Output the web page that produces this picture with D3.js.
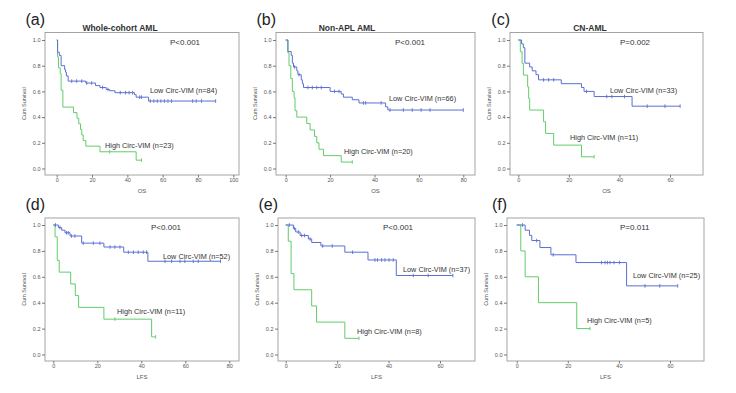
<!DOCTYPE html>
<html>
<head>
<meta charset="utf-8">
<script src="https://cdn.jsdelivr.net/npm/d3@7"></script>
<style>
  html, body { margin: 0; padding: 0; background: #fff; }
  svg { display: block; font-family: "Liberation Sans", Arial, sans-serif; }
</style>
</head>
<body>
<div id="chart"></div>
<script>
// Kaplan-Meier steps: [time, survival after the event]
const aLowSteps = [[0,1],[0.5,0.905],[1.5,0.88],[2.5,0.80],[4.5,0.77],[5,0.75],[5.5,0.72],[6.5,0.68],[16.5,0.665],[22,0.645],[24.5,0.63],[28,0.615],[30,0.605],[33,0.59],[44,0.575],[45,0.555],[52,0.525]];
const aLowEnd = 90;
const aLowCensor = [8.5,11.3,14.2,17,19.8,26,29,36,39,41,43,47,48,53,55,57,59,61,63,65,77,79,82,90];
const aHighSteps = [[0,1],[0.5,0.87],[1,0.783],[2,0.739],[2.5,0.609],[3.5,0.478],[9.5,0.435],[11.5,0.391],[12.5,0.348],[13.5,0.304],[14.2,0.261],[15,0.217],[16.5,0.174],[24.5,0.13],[45,0.065]];
const aHighEnd = 48;
const aHighCensor = [30,48];

const bLowSteps = [[0,1],[1,0.91],[2.5,0.88],[3,0.82],[3.5,0.79],[5,0.76],[5.5,0.73],[7,0.69],[7.5,0.66],[8,0.63],[20,0.60],[25,0.58],[26,0.555],[30,0.535],[33,0.51],[45,0.48],[46,0.455]];
const bLowEnd = 80;
const bLowCensor = [4,6,10,12,14,16,22,24,35,36,43,47,53,57,61,65,80];
const bHighSteps = [[0,1],[1,0.9],[1.5,0.8],[2.3,0.7],[3,0.6],[3.8,0.55],[4.2,0.45],[5,0.4],[9.5,0.35],[11,0.3],[13,0.25],[14,0.2],[15,0.15],[17,0.1],[25,0.05]];
const bHighEnd = 30;
const bHighCensor = [30];

const cLowSteps = [[0,1],[1.3,0.97],[2,0.94],[2.6,0.82],[4.5,0.79],[5.5,0.76],[7,0.73],[8,0.69],[17,0.66],[25,0.63],[26,0.60],[30,0.56],[45,0.485]];
const cLowEnd = 64;
const cLowCensor = [10,12,14,27,35,37,42,51,58,64];
const cHighSteps = [[0,1],[0.8,0.909],[1.5,0.818],[2,0.727],[3.7,0.636],[4.1,0.545],[4.5,0.455],[10,0.364],[10.8,0.273],[14,0.182],[25,0.091]];
const cHighEnd = 30;
const cHighCensor = [30];

const dLowSteps = [[0,1],[2.3,0.98],[3.8,0.96],[5.3,0.94],[7.6,0.915],[12.9,0.86],[23,0.83],[32,0.79],[43,0.72]];
const dLowEnd = 76;
const dLowCensor = [1,3,6,6.8,8.3,9.8,13.6,18.2,21.2,25.8,28,30.3,34.1,36.4,38.6,40.9,42.4,50.8,53.8,57.6,59.8,63.6,65.9,76];
const dHighSteps = [[0,1],[0.8,0.909],[1.8,0.727],[2.7,0.636],[7.9,0.545],[10,0.455],[11.5,0.364],[23,0.273],[44.7,0.136]];
const dHighEnd = 46.5;
const dHighCensor = [28,46.5];

const eLowSteps = [[0,1],[3,0.973],[3.9,0.946],[5.6,0.919],[8.8,0.892],[10.1,0.865],[13.7,0.838],[23,0.79],[32,0.73],[43,0.61]];
const eLowEnd = 65;
const eLowCensor = [1.4,3.4,4.9,6.2,7.3,9.5,14.4,18.1,26,34.7,35.7,37.3,38.6,40.2,41.8,49.6,55.4,65];
const eHighSteps = [[0,1],[1,0.875],[2.1,0.625],[3.2,0.5],[10.1,0.375],[12,0.25],[23,0.125]];
const eHighEnd = 28.5;
const eHighCensor = [28.5];

const fLowSteps = [[0,1],[3.3,0.96],[5,0.92],[5.9,0.88],[9.1,0.826],[13.4,0.77],[23.2,0.71],[43,0.53]];
const fLowEnd = 63;
const fLowCensor = [2.3,7.8,14.3,33.2,34.6,35.5,36.5,38.1,40.2,50.2,56,63];
const fHighSteps = [[0,1],[1.6,0.8],[3.3,0.6],[8.5,0.4],[23.5,0.2]];
const fHighEnd = 28.7;
const fHighCensor = [28.7];

// tick labels and texts
const yTicks = [0, 0.2, 0.4, 0.6, 0.8, 1.0];
const xTicks100 = [0, 20, 40, 60, 80, 100];
const xTicks80 = [0, 20, 40, 60, 80];
const xTicks60 = [0, 20, 40, 60];
const panelLetters = ["(a)", "(b)", "(c)", "(d)", "(e)", "(f)"];
const panelTitles = ["Whole-cohort AML", "Non-APL AML", "CN-AML", "", "", ""];
const timeLabels = ["OS", "OS", "OS", "LFS", "LFS", "LFS"];
const pValues = ["P<0.001", "P<0.001", "P=0.002", "P<0.001", "P<0.001", "P=0.011"];
const lowN = [84, 66, 33, 52, 37, 25];
const highN = [23, 20, 11, 11, 8, 5];

const series = [
  {low: [aLowSteps, aLowEnd, aLowCensor], high: [aHighSteps, aHighEnd, aHighCensor], xTicks: xTicks100},
  {low: [bLowSteps, bLowEnd, bLowCensor], high: [bHighSteps, bHighEnd, bHighCensor], xTicks: xTicks80},
  {low: [cLowSteps, cLowEnd, cLowCensor], high: [cHighSteps, cHighEnd, cHighCensor], xTicks: xTicks60},
  {low: [dLowSteps, dLowEnd, dLowCensor], high: [dHighSteps, dHighEnd, dHighCensor], xTicks: xTicks80},
  {low: [eLowSteps, eLowEnd, eLowCensor], high: [eHighSteps, eHighEnd, eHighCensor], xTicks: xTicks60},
  {low: [fLowSteps, fLowEnd, fLowCensor], high: [fHighSteps, fHighEnd, fHighCensor], xTicks: xTicks60}
];

// layout, in pixels
const rows = [
  {y1: 40, y0: 168.5, top: 32.5, bottom: 175},
  {y1: 225, y0: 354.5, top: 218, bottom: 361}
];
const layout = [
  {row: 0, left: 45, right: 239, x0: 56.7, xEnd: 233.3, titleX: 120, p: [170, 45], lowL: [150, 93.3], highL: [105, 148.3]},
  {row: 0, left: 276, right: 475, x0: 285.7, xEnd: 463.3, titleX: 347, p: [395, 45], lowL: [389, 100.5], highL: [344, 153.5]},
  {row: 0, left: 510, right: 703, x0: 518.3, xEnd: 670, titleX: 590, p: [620, 45], lowL: [610, 92.5], highL: [570, 139.5]},
  {row: 1, left: 45, right: 239, x0: 53.3, xEnd: 229.3, p: [151, 230], lowL: [163, 258.5], highL: [117, 314]},
  {row: 1, left: 278, right: 475, x0: 285.7, xEnd: 440, p: [383, 230], lowL: [403, 271.5], highL: [357, 333.5]},
  {row: 1, left: 507, right: 704, x0: 516.7, xEnd: 670, p: [620, 230], lowL: [633, 278], highL: [587, 322.5]}
];

const width = 736, height = 393;
const lowColor = "#5b6fd2";
const highColor = "#62cc6a";

const svg = d3.select("#chart")
  .append("svg")
  .attr("width", width)
  .attr("height", height)
  .attr("viewBox", [0, 0, width, height]);

layout.forEach((L, i) => {
  const R = rows[L.row];
  const S = series[i];
  const xMax = S.xTicks[S.xTicks.length - 1];
  const x = d3.scaleLinear().domain([0, xMax]).range([L.x0, L.xEnd]);
  const y = d3.scaleLinear().domain([0, 1]).range([R.y0, R.y1]);
  const g = svg.append("g");

  // frame
  g.append("rect")
    .attr("x", L.left).attr("y", R.top)
    .attr("width", L.right - L.left).attr("height", R.bottom - R.top)
    .attr("fill", "none").attr("stroke", "#a4a4a4").attr("stroke-width", 1);

  // axes
  const gy = g.append("g")
    .attr("transform", `translate(${L.left},0)`)
    .call(d3.axisLeft(y).tickValues(yTicks).tickFormat(d3.format(".1f")).tickSize(3).tickPadding(1.5));
  const gx = g.append("g")
    .attr("transform", `translate(0,${R.bottom})`)
    .call(d3.axisBottom(x).tickValues(S.xTicks).tickFormat(d3.format("d")).tickSize(2.5).tickPadding(1));
  [gx, gy].forEach(ax => {
    ax.select(".domain").remove();
    ax.selectAll(".tick line").attr("stroke", "#777");
    ax.selectAll(".tick text").attr("fill", "#555").style("font-size", "5.5px");
  });

  // axis titles
  g.append("text")
    .attr("x", (L.left + L.right) / 2).attr("y", R.bottom + 17.5)
    .attr("text-anchor", "middle").attr("fill", "#555")
    .style("font-size", "6px").text(timeLabels[i]);
  g.append("text")
    .attr("transform", `translate(${L.left - 19},${(R.top + R.bottom) / 2}) rotate(-90)`)
    .attr("text-anchor", "middle").attr("fill", "#555")
    .style("font-size", "5.5px").text("Cum Survival");

  // panel letter and title
  g.append("text")
    .attr("x", L.left).attr("y", R.top - 8)
    .attr("text-anchor", "end").attr("fill", "#222")
    .style("font-size", "16px").text(panelLetters[i]);
  if (panelTitles[i]) {
    g.append("text")
      .attr("x", L.titleX).attr("y", R.top - 2)
      .attr("text-anchor", "middle").attr("fill", "#333")
      .style("font-size", "8.5px").style("font-weight", "bold")
      .text(panelTitles[i]);
  }

  // curves
  const line = d3.line().x(d => x(d[0])).y(d => y(d[1])).curve(d3.curveStepAfter);
  const drawCurve = ([steps, end, censor], color) => {
    const pts = steps.concat([[end, steps[steps.length - 1][1]]]);
    g.append("path")
      .attr("d", line(pts))
      .attr("fill", "none").attr("stroke", color).attr("stroke-width", 1);
    const survAt = t => {
      let s = 1;
      steps.forEach(p => { if (p[0] <= t) s = p[1]; });
      return s;
    };
    g.append("g").selectAll("line")
      .data(censor)
      .join("line")
        .attr("x1", d => x(d)).attr("x2", d => x(d))
        .attr("y1", d => y(survAt(d)) - 1.8).attr("y2", d => y(survAt(d)) + 1.8)
        .attr("stroke", color).attr("stroke-width", 0.9);
  };
  drawCurve(S.high, highColor);
  drawCurve(S.low, lowColor);

  // annotations
  g.append("text")
    .attr("x", L.p[0]).attr("y", L.p[1])
    .attr("fill", "#333").style("font-size", "8px").text(pValues[i]);
  g.append("text")
    .attr("x", L.lowL[0]).attr("y", L.lowL[1])
    .attr("fill", "#333").style("font-size", "7.3px").text(`Low Circ-VIM (n=${lowN[i]})`);
  g.append("text")
    .attr("x", L.highL[0]).attr("y", L.highL[1])
    .attr("fill", "#333").style("font-size", "7.3px").text(`High Circ-VIM (n=${highN[i]})`);
});
</script>
</body>
</html>
